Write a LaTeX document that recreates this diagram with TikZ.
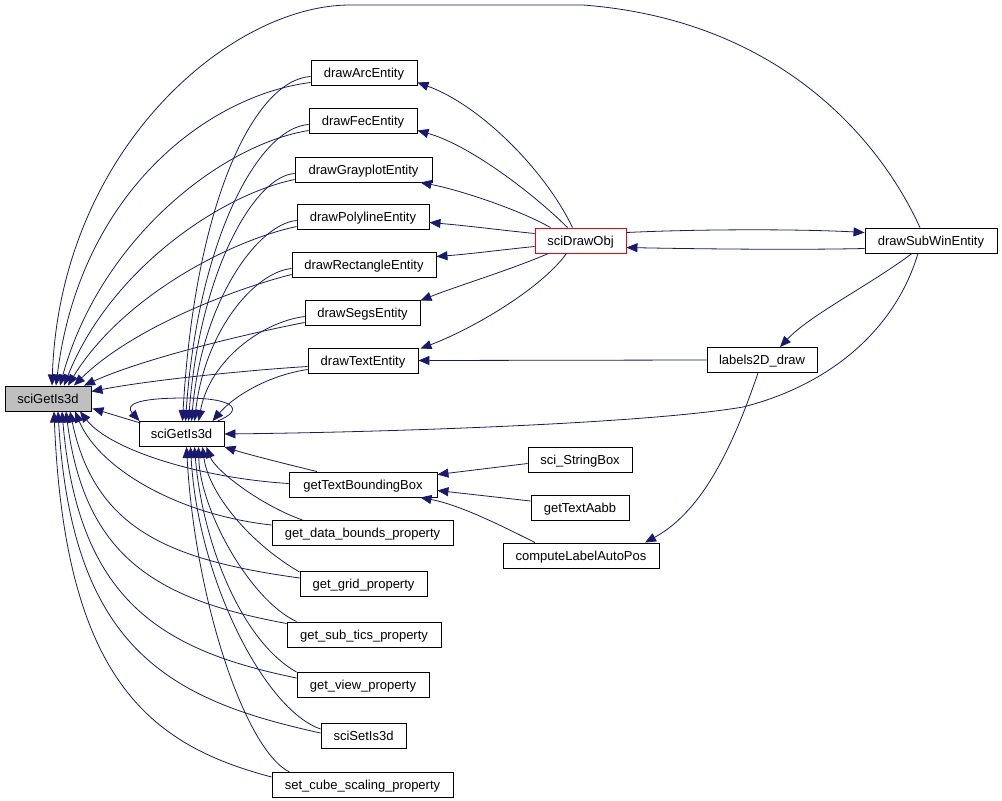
\documentclass[tikz,border=0pt]{standalone}
\usepackage{fontspec}
\setmainfont{Liberation Sans}
\usetikzlibrary{arrows.meta,calc}
\definecolor{edgec}{RGB}{25,25,112}
\definecolor{focusfill}{RGB}{191,191,191}
\tikzset{
  fn/.style={draw=black, line width=0.9pt, fill=white, inner sep=0pt, minimum height=25pt,
    text height=9.5pt, text depth=0pt,
    font=\fontsize{13}{15}\selectfont, text=black},
  focus/.style={fn, fill=focusfill},
  redbox/.style={fn, draw=red},
  call/.style={draw=edgec, line width=0.8pt, -{Triangle[length=11pt,width=9pt]}}
}
\begin{document}
\begin{tikzpicture}[x=1pt,y=-1pt]
\path[fill=white] (0,0) rectangle (1002,801);
\useasboundingbox (0,0) rectangle (1002,801);

% nodes
\node[focus, minimum width=86pt] (A) at (48,398.5) {sciGetIs3d};
\node[fn, minimum width=85pt] (B) at (181.5,434) {sciGetIs3d};
\node[fn, minimum width=106pt] (dArc) at (364,72.5) {drawArcEntity};
\node[fn, minimum width=108pt] (dFec) at (363,120.5) {drawFecEntity};
\node[fn, minimum width=137pt] (dGray) at (363.5,169.5) {drawGrayplotEntity};
\node[fn, minimum width=132pt] (dPoly) at (363,216.5) {drawPolylineEntity};
\node[fn, minimum width=144pt] (dRect) at (364,264.5) {drawRectangleEntity};
\node[fn, minimum width=115pt] (dSegs) at (362.5,312.5) {drawSegsEntity};
\node[fn, minimum width=110pt] (dText) at (363,360.5) {drawTextEntity};
\node[redbox, minimum width=91pt] (draw) at (580.5,240.5) {sciDrawObj};
\node[fn, minimum width=132pt] (sub) at (931,240.5) {drawSubWinEntity};
\node[fn, minimum width=110pt] (lab) at (762,360) {labels2D\_draw};
\node[fn, minimum width=148pt] (gtb) at (363,484.5) {getTextBoundingBox};
\node[fn, minimum width=104pt] (ssb) at (580,459.5) {sci\_StringBox};
\node[fn, minimum width=98pt] (gta) at (580,508) {getTextAabb};
\node[fn, minimum width=156pt] (cla) at (581,555.5) {computeLabelAutoPos};
\node[fn, minimum width=181pt] (gdb) at (362.5,533) {get\_data\_bounds\_property};
\node[fn, minimum width=127pt] (ggp) at (363.5,584) {get\_grid\_property};
\node[fn, minimum width=154pt] (gst) at (364,634.5) {get\_sub\_tics\_property};
\node[fn, minimum width=132pt] (gvp) at (363,685) {get\_view\_property};
\node[fn, minimum width=85pt] (ssi) at (363.5,736) {sciSetIs3d};
\node[fn, minimum width=181pt] (scs) at (362.5,785) {set\_cube\_scaling\_property};

% drawSubWinEntity -> sciGetIs3d (big arc)
\draw[call] ($(sub.north)+(-11,0)$) .. controls (880,140) and (780,20) .. (583,5) -- (350,5)
  .. controls (230,5) and (60,150) .. ($(A.north)+(4,0)$);

% draw*Entity -> A
\draw[call] ($(dArc.west)+(0,10)$) .. controls (210,95) and (80,190) .. ($(A.north)+(8,0)$);
\draw[call] ($(dFec.west)+(0,10)$) .. controls (220,145) and (100,240) .. ($(A.north)+(12,0)$);
\draw[call] ($(dGray.west)+(0,10)$) .. controls (220,195) and (110,270) .. ($(A.north)+(16,0)$);
\draw[call] ($(dPoly.west)+(0,10)$) .. controls (225,242) and (120,300) .. ($(A.north)+(20,0)$);
\draw[call] ($(dRect.west)+(0,10)$) .. controls (230,290) and (130,330) .. ($(A.north)+(26,0)$);
\draw[call] ($(dSegs.west)+(0,10)$) .. controls (240,335) and (140,360) .. ($(A.north)+(36,0)$);
\draw[call] ($(dText.west)+(0,6)$) .. controls (250,370) and (150,380) .. ($(A.east)+(0,-7)$);

% B -> A
\draw[call] ($(B.north west)+(2,2)$) -- ($(A.east)+(1,10)$);

% B self loop
\draw[call] ($(B.north)+(36,0)$) .. controls (245,410) and (235,398) .. (185,398)
  .. controls (135,398) and (125,405) .. ($(B.north west)+(1,0)$);

% draw*Entity -> B
\draw[call] ($(dArc.west)+(0,4)$) .. controls (255,80) and (195,200) .. ($(B.north)+(1,0)$);
\draw[call] ($(dFec.west)+(0,4)$) .. controls (258,128) and (198,240) .. ($(B.north)+(4,0)$);
\draw[call] ($(dGray.west)+(0,4)$) .. controls (255,176) and (200,270) .. ($(B.north)+(7,0)$);
\draw[call] ($(dPoly.west)+(0,4)$) .. controls (258,224) and (202,300) .. ($(B.north)+(10,0)$);
\draw[call] ($(dRect.west)+(0,4)$) .. controls (255,272) and (205,330) .. ($(B.north)+(13,0)$);
\draw[call] ($(dSegs.west)+(0,4)$) .. controls (262,322) and (210,360) .. ($(B.north)+(17,0)$);
\draw[call] ($(dText.west)+(0,9)$) .. controls (270,375) and (235,395) .. ($(B.north)+(31,0)$);

% drawSubWinEntity -> B
\draw[call] ($(sub.south)+(-13,0)$) .. controls (895,330) and (830,385) .. (743,407)
  .. controls (650,423) and (400,432) .. (B.east);

% sciDrawObj <-> drawSubWinEntity
\draw[call] ($(draw.east)+(0,-8)$) .. controls (700,229) and (800,229) .. ($(sub.west)+(0,-8)$);
\draw[call] ($(sub.west)+(0,8)$) .. controls (800,250) and (700,249) .. ($(draw.east)+(0,7)$);

% drawSubWinEntity -> labels2D_draw
\draw[call] ($(sub.south)+(-19,0)$) .. controls (870,285) and (810,315) .. ($(lab.north)+(18,0)$);

% sciDrawObj -> draw*Entity
\draw[call] ($(draw.north)+(-8,0)$) .. controls (545,170) and (480,105) .. ($(dArc.east)+(0,10)$);
\draw[call] ($(draw.north)+(-13,0)$) .. controls (535,195) and (470,145) .. ($(dFec.east)+(0,10)$);
\draw[call] ($(draw.north)+(-30,0)$) .. controls (520,210) and (460,190) .. ($(dGray.south east)+(-12,0)$);
\draw[call] ($(draw.west)+(0,-7)$) .. controls (500,230) and (470,226) .. ($(dPoly.east)+(0,6)$);
\draw[call] ($(draw.west)+(0,6)$) .. controls (500,250) and (470,254) .. ($(dRect.east)+(0,-8)$);
\draw[call] ($(draw.south)+(-32,0)$) .. controls (510,270) and (460,285) .. ($(dSegs.east)+(0,-12)$);
\draw[call] ($(draw.south)+(-14,0)$) .. controls (540,290) and (470,330) .. ($(dText.east)+(2,-12)$);

% labels2D_draw
\draw[call] (lab.west) -- (dText.east);
\draw[call] ($(lab.south)+(-4,0)$) .. controls (735,440) and (705,510) .. ($(cla.north)+(64,0)$);

% -> getTextBoundingBox
\draw[call] ($(ssb.west)+(0,4)$) -- ($(gtb.east)+(0,-10)$);
\draw[call] ($(gta.west)+(0,-7)$) -- ($(gtb.east)+(0,6)$);
\draw[call] ($(cla.north)+(-46,0)$) .. controls (500,525) and (460,505) .. ($(gtb.south east)+(-17,0)$);

% lower nodes -> B and A
\draw[call] ($(gtb.north)+(-46,0)$) .. controls (290,465) and (250,455) .. (B.south east);
\draw[call] ($(gtb.west)+(0,-1)$) .. controls (200,478) and (110,450) .. ($(A.south)+(32,0)$);

\draw[call] ($(gdb.west)+(0,-8)$) .. controls (180,515) and (100,470) .. ($(A.south)+(27,0)$);
\draw[call] ($(gdb.north west)+(31,0)$) .. controls (260,505) and (215,470) .. ($(B.south)+(25,0)$);

\draw[call] ($(ggp.west)+(0,-6)$) .. controls (170,560) and (95,530) .. ($(A.south)+(22,0)$);
\draw[call] ($(ggp.north west)+(0,1)$) .. controls (245,540) and (208,490) .. ($(B.south)+(21,0)$);

\draw[call] ($(gst.west)+(0,-11)$) .. controls (160,600) and (85,560) .. ($(A.south)+(18,0)$);
\draw[call] ($(gst.north west)+(10,0)$) .. controls (250,600) and (200,510) .. ($(B.south)+(17,0)$);

\draw[call] ($(gvp.west)+(0,-7)$) .. controls (160,650) and (78,600) .. ($(A.south)+(14,0)$);
\draw[call] (gvp.north west) .. controls (240,640) and (202,540) .. ($(B.south)+(13,0)$);

\draw[call] ($(ssi.west)+(0,-3)$) .. controls (170,700) and (72,650) .. ($(A.south)+(10,0)$);
\draw[call] ($(ssi.west)+(0,-7)$) .. controls (265,710) and (198,580) .. ($(B.south)+(9,0)$);

\draw[call] ($(scs.west)+(0,-8)$) .. controls (150,745) and (65,680) .. ($(A.south)+(6,0)$);
\draw[call] ($(scs.north west)+(18,0)$) .. controls (245,750) and (195,600) .. ($(B.south)+(5,0)$);
\end{tikzpicture}
\end{document}
